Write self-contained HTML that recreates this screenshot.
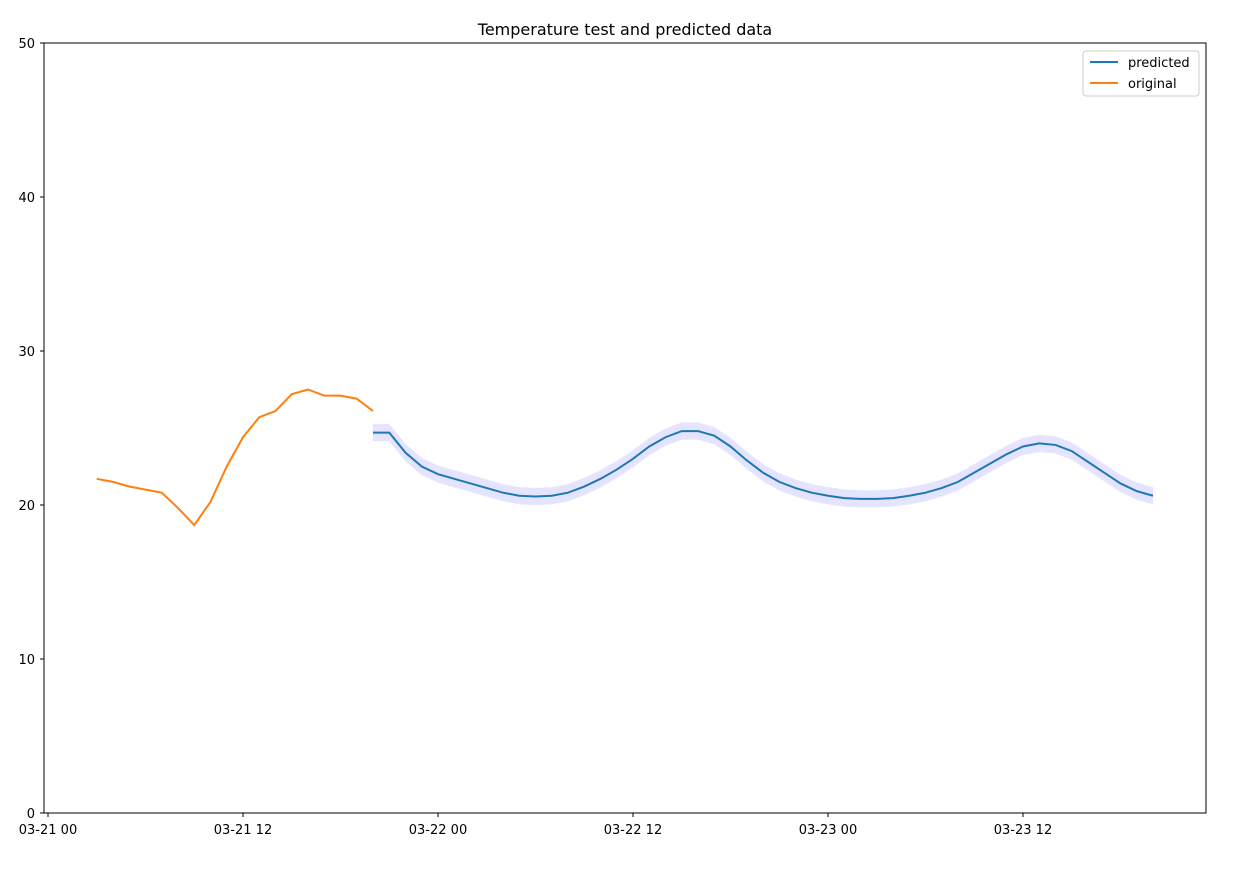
<!DOCTYPE html>
<html><head><meta charset="utf-8"><style>
body{margin:0;background:#fff;font-family:"Liberation Sans","DejaVu Sans",sans-serif}
svg text{font-family:"DejaVu Sans","Liberation Sans",sans-serif}
</style></head><body>
<svg id="c" width="1250" height="872" xmlns="http://www.w3.org/2000/svg">
<rect width="1250" height="872" fill="#fff"/>
<text x="625" y="35" font-size="16" text-anchor="middle">Temperature test and predicted data</text>
<g id="plot"></g>
<rect x="44" y="43" width="1162" height="770" fill="none" stroke="#000" stroke-width="1"/>
<g>
<rect x="1083" y="51" width="116" height="45" rx="3" fill="#fff" stroke="#ccc"/>
<line x1="1090" y1="62" x2="1118" y2="62" stroke="#1f77b4" stroke-width="2"/>
<text x="1128" y="67" font-size="13">predicted</text>
<line x1="1090" y1="83" x2="1118" y2="83" stroke="#ff7f0e" stroke-width="2"/>
<text x="1128" y="88" font-size="13">original</text>
</g>
</svg>
<script>
const origHours=[3,4,5,6,7,8,9,10,11,12,13,14,15,16,17,18,19,20];
const origVals=[21.7,21.5,21.2,21.0,20.8,19.8,18.7,20.2,22.5,24.4,25.7,26.1,27.2,27.5,27.1,27.1,26.9,26.1];
const predStart=20;
const predVals=[24.7,24.7,23.4,22.5,22.0,21.7,21.4,21.1,20.8,20.6,20.55,20.6,20.8,21.2,21.7,22.3,23.0,23.8,24.4,24.8,24.8,24.5,23.8,22.9,22.1,21.5,21.1,20.8,20.6,20.45,20.4,20.4,20.45,20.6,20.8,21.1,21.5,22.1,22.7,23.3,23.8,24.0,23.9,23.5,22.8,22.1,21.4,20.9,20.6];
const bandHalf=0.55;
const yTicks=[0,10,20,30,40,50];
const xTickHours=[0,12,24,36,48,60];
const xTickLabels=["03-21 00","03-21 12","03-22 00","03-22 12","03-23 00","03-23 12"];
const NS="http://www.w3.org/2000/svg";
const X=h=>48+h*16.25;
const Y=v=>813-v*15.4;
const svg=document.getElementById('c');
const g=document.getElementById('plot');
function mk(t,a,p){const e=document.createElementNS(NS,t);for(const k in a)e.setAttribute(k,a[k]);(p||g).appendChild(e);return e;}
yTicks.forEach(v=>{
 const l=mk('line',{x1:40,x2:44,y1:Y(v),y2:Y(v),stroke:'#000'});
 
 
 const t=mk('text',{x:35,y:Y(v)+5,'font-size':13,'text-anchor':'end'});t.textContent=v;
 
 
});
xTickHours.forEach((h,i)=>{
 const l=mk('line',{x1:X(h),x2:X(h),y1:813,y2:817,stroke:'#000'});
 
 
 const t=mk('text',{x:X(h),y:834,'font-size':13,'text-anchor':'middle'});t.textContent=xTickLabels[i];
 
 
});
const ph=predVals.map((v,i)=>predStart+i);
let up=ph.map((h,i)=>X(h)+','+Y(predVals[i]+bandHalf));
let lo=ph.map((h,i)=>X(h)+','+Y(predVals[i]-bandHalf)).reverse();
const band=mk('polygon',{points:up.concat(lo).join(' '),fill:'#0000ff',opacity:0.1,stroke:'#0000ff','stroke-opacity':0.3});


const pl=mk('polyline',{points:ph.map((h,i)=>X(h)+','+Y(predVals[i])).join(' '),fill:'none',stroke:'#1f77b4','stroke-width':2});


const ol=mk('polyline',{points:origHours.map((h,i)=>X(h)+','+Y(origVals[i])).join(' '),fill:'none',stroke:'#ff7f0e','stroke-width':2});


</script>
</body></html>
